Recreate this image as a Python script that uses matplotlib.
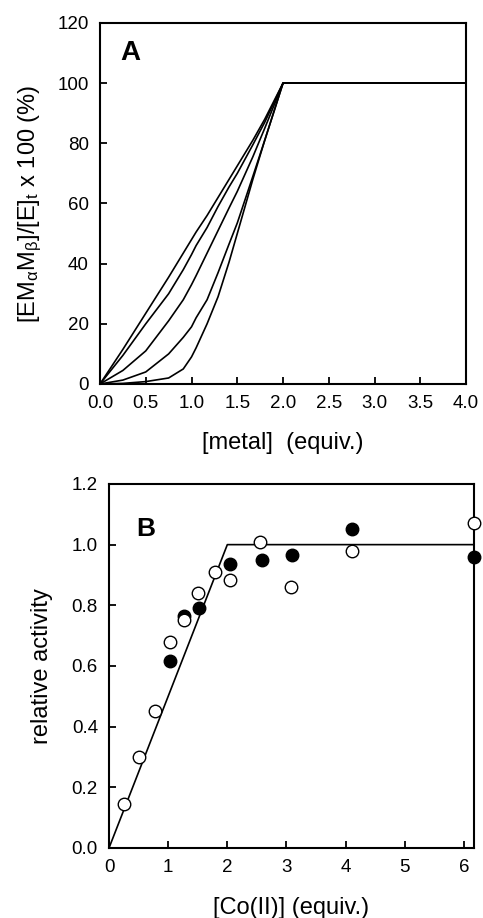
import numpy as np
import matplotlib
matplotlib.use('Agg')
import matplotlib.pyplot as plt

plt.rcParams['font.family'] = ['Liberation Sans', 'DejaVu Sans']
plt.rcParams['mathtext.fontset'] = 'custom'
plt.rcParams['mathtext.rm'] = 'Liberation Sans'
plt.rcParams['mathtext.default'] = 'regular'

# panel A: simulated titration curves
xa = [0.0, 0.25, 0.5, 0.75, 0.91, 1.0, 1.05, 1.17, 1.29, 1.41, 1.5, 1.67, 1.8, 1.9, 2.0, 4.0]
curve1 = [0, 11.5, 23.5, 35.5, 43.5, 48, 50.5, 56, 62, 68, 72.5, 81, 88, 94, 100, 100]
curve2 = [0, 9.5, 20, 30, 38, 43, 46, 52, 59, 65.5, 70, 79.5, 87, 93.5, 100, 100]
curve3 = [0, 4.5, 11, 21, 28, 33, 36, 43.5, 51, 58.5, 64, 75.5, 85, 92.5, 100, 100]
curve4 = [0, 1.3, 4, 10, 15.5, 19, 22, 28, 37, 46.5, 53.5, 69, 81, 90.5, 100, 100]
curve5 = [0, 0.2, 0.8, 2, 5, 9, 12, 20, 29, 40.5, 50, 68, 81, 90.5, 100, 100]

# panel B: measured relative activity
x_open = [0.26, 0.51, 0.77, 1.03, 1.27, 1.51, 1.79, 2.04, 2.56, 3.08, 4.10, 6.17]
y_open = [0.145, 0.30, 0.45, 0.68, 0.75, 0.84, 0.91, 0.885, 1.01, 0.86, 0.98, 1.07]
x_fill = [1.03, 1.27, 1.52, 2.05, 2.58, 3.09, 4.11, 6.17]
y_fill = [0.615, 0.765, 0.79, 0.935, 0.95, 0.965, 1.05, 0.96]
x_fit = [0, 2.0, 6.17]
y_fit = [0, 1.0, 1.0]

fig = plt.figure(figsize=(4.83, 9.18), dpi=100)
axA = fig.add_axes([0.207, 0.5817, 0.758, 0.3933])
axB = fig.add_axes([0.2257, 0.0763, 0.7557, 0.3965])

for c in [curve1, curve2, curve3, curve4, curve5]:
    axA.plot(xa, c, color='black', lw=1.2)
axA.set_xlim(0, 4)
axA.set_ylim(0, 120)
axA.set_xticks(np.arange(0, 4.01, 0.5))
axA.set_xticklabels(['%.1f' % v for v in np.arange(0, 4.01, 0.5)])
axA.set_yticks(np.arange(0, 121, 20))
axA.set_xlabel('[metal]  (equiv.)', fontsize=17, labelpad=14)
axA.set_ylabel('[EM$_{α}$M$_{β}$]/[E]$_{t}$ x 100 (%)', fontsize=17, labelpad=10)
axA.text(0.33, 110, 'A', fontsize=20, fontweight='bold', ha='center', va='center')

axB.plot(x_fit, y_fit, color='black', lw=1.2, zorder=2)
axB.plot(x_fill, y_fill, 'o', ms=9, mfc='black', mec='black', mew=1, clip_on=False, zorder=3)
axB.plot(x_open, y_open, 'o', ms=9, mfc='white', mec='black', mew=1, clip_on=False, zorder=4)
axB.set_xlim(0, 6.17)
axB.set_ylim(0, 1.2)
axB.set_xticks(range(0, 7))
axB.set_yticks(np.arange(0, 1.21, 0.2))
axB.set_yticklabels(['%.1f' % v for v in np.arange(0, 1.21, 0.2)])
axB.set_xlabel('[Co(II)] (equiv.)', fontsize=17, labelpad=15)
axB.set_ylabel('relative activity', fontsize=17, labelpad=13.5)
axB.text(0.62, 1.05, 'B', fontsize=19, fontweight='bold', ha='center', va='center')

for ax in [axA, axB]:
    for s in ax.spines.values():
        s.set_linewidth(1.5)
    ax.tick_params(direction='in', length=5, width=1.3, labelsize=13.5, pad=8)

fig.savefig('out.png', dpi=100)
